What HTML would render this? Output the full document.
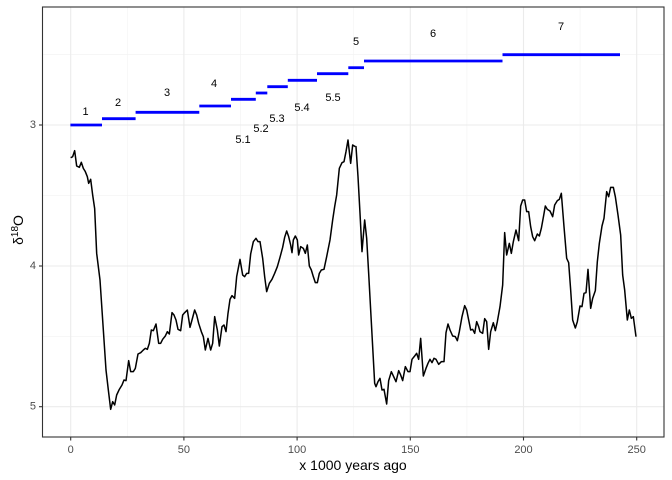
<!DOCTYPE html>
<html><head><meta charset="utf-8"><style>
html,body{margin:0;padding:0;background:#fff;}
svg{display:block;font-family:"Liberation Sans",sans-serif;}
</style></head><body>
<svg width="672" height="480" viewBox="0 0 672 480" xmlns="http://www.w3.org/2000/svg">
<rect x="0" y="0" width="672" height="480" fill="#fff"/>
<!-- minor grid -->
<g stroke="#f2f2f2" stroke-width="0.6">
<line x1="127.3" y1="7" x2="127.3" y2="437"/><line x1="240.5" y1="7" x2="240.5" y2="437"/><line x1="353.7" y1="7" x2="353.7" y2="437"/><line x1="466.9" y1="7" x2="466.9" y2="437"/><line x1="580.1" y1="7" x2="580.1" y2="437"/>
<line x1="42.5" y1="54.4" x2="664" y2="54.4"/><line x1="42.5" y1="195.7" x2="664" y2="195.7"/><line x1="42.5" y1="336.7" x2="664" y2="336.7"/>
</g>
<g stroke="#ebebeb" stroke-width="1.1">
<line x1="70.7" y1="7" x2="70.7" y2="437"/><line x1="183.9" y1="7" x2="183.9" y2="437"/><line x1="297.1" y1="7" x2="297.1" y2="437"/><line x1="410.3" y1="7" x2="410.3" y2="437"/><line x1="523.5" y1="7" x2="523.5" y2="437"/><line x1="636.7" y1="7" x2="636.7" y2="437"/>
<line x1="42.5" y1="125" x2="664" y2="125"/><line x1="42.5" y1="266" x2="664" y2="266"/><line x1="42.5" y1="406.7" x2="664" y2="406.7"/>
</g>
<!-- blue segments -->
<g stroke="#0000ff" stroke-width="2.8">
<line x1="70.4" y1="125" x2="102" y2="125"/>
<line x1="102" y1="118.7" x2="135.6" y2="118.7"/>
<line x1="135.6" y1="112.3" x2="199.3" y2="112.3"/>
<line x1="199.3" y1="106" x2="231" y2="106"/>
<line x1="231" y1="99.3" x2="255.8" y2="99.3"/>
<line x1="255.8" y1="93" x2="267.3" y2="93"/>
<line x1="267.3" y1="86.7" x2="287.8" y2="86.7"/>
<line x1="287.8" y1="80.3" x2="317" y2="80.3"/>
<line x1="317" y1="73.7" x2="348.3" y2="73.7"/>
<line x1="348.3" y1="67.7" x2="364" y2="67.7"/>
<line x1="364" y1="61" x2="502.5" y2="61"/>
<line x1="502.5" y1="54.7" x2="620" y2="54.7"/>
</g>
<g font-size="11" fill="#000" text-anchor="middle" dominant-baseline="central">
<text x="85.5" y="112">1</text><text x="118" y="103">2</text><text x="167" y="93">3</text><text x="214" y="84">4</text>
<text x="243" y="140">5.1</text><text x="261" y="129">5.2</text><text x="277" y="119">5.3</text><text x="302" y="108">5.4</text><text x="333" y="98">5.5</text>
<text x="356" y="42">5</text><text x="433" y="34">6</text><text x="561" y="27">7</text>
</g>
<!-- black line -->
<polyline transform="translate(40,130) scale(0.33333)" fill="none" stroke="#000" stroke-width="1.5" vector-effect="non-scaling-stroke" stroke-linejoin="round" points="92,83 98,80 104,62 110,108 118,112 124,97 130,115 136,125 142,140 146,160 152,148 158,195 164,236 170,370 180,450 190,600 198,720 205,780 212,838 218,815 224,825 230,795 238,778 246,765 252,750 258,752 266,692 272,725 280,725 286,715 294,672 302,668 310,660 316,655 322,658 328,640 334,600 340,602 348,582 356,640 362,640 368,628 376,618 382,605 388,612 396,548 402,555 408,570 414,598 422,602 428,555 434,548 442,540 450,592 456,570 464,540 470,555 476,580 484,605 490,620 496,660 504,625 512,660 518,640 524,560 532,600 538,648 546,590 552,585 558,605 564,550 570,508 576,497 584,505 590,440 600,388 608,435 614,440 620,430 626,430 632,372 640,335 648,325 654,335 660,335 668,385 674,440 680,485 688,460 696,448 704,430 712,410 720,382 728,352 734,322 740,303 746,320 752,345 756,368 760,330 766,318 772,330 776,375 782,350 790,355 796,370 802,345 808,408 814,420 820,440 826,458 832,458 838,430 844,420 852,418 860,380 870,330 878,270 884,230 890,195 898,115 906,98 912,95 918,65 924,30 932,100 938,45 946,50"/>
<polyline transform="translate(340,130) scale(0.33333)" fill="none" stroke="#000" stroke-width="1.5" vector-effect="non-scaling-stroke" stroke-linejoin="round" points="46,50 48,50 54,140 60,250 66,365 74,270 80,325 86,430 92,540 98,650 104,760 108,770 114,755 120,745 126,780 132,778 140,822 146,752 154,725 160,738 168,755 176,722 182,735 188,752 196,710 204,725 210,725 216,688 224,678 230,670 236,688 242,625 250,738 258,715 264,700 270,688 276,698 282,685 288,688 296,703 304,695 312,695 318,608 324,582 330,600 338,618 346,620 352,632 358,605 366,560 374,527 380,540 386,570 392,600 398,598 404,610 410,575 416,590 420,605 428,610 434,566 440,575 446,658 452,605 460,578 466,602 472,575 480,530 488,465 494,308 500,375 508,340 514,370 520,335 528,300 536,332 542,228 548,210 554,210 560,245 566,245 572,290 578,320 584,332 592,312 598,318 604,295 610,262 616,228 622,238 630,243 638,260 644,225 652,212 658,208 664,190 672,290 680,385 686,398 692,480 698,570 706,594 712,575 720,528 726,530 732,490 738,488 744,418 752,535 758,505 766,482 772,395 778,340 786,288 792,265 800,185 806,200 812,172 820,172 826,200 834,255 842,315 848,435 854,480 862,570 868,540 874,565 880,560 888,620"/>
<!-- border -->
<rect x="42.5" y="7" width="621.5" height="430" fill="none" stroke="#333" stroke-width="1.1"/>
<!-- ticks -->
<g stroke="#333" stroke-width="1.1">
<line x1="70.7" y1="437" x2="70.7" y2="440.5"/><line x1="183.9" y1="437" x2="183.9" y2="440.5"/><line x1="297.1" y1="437" x2="297.1" y2="440.5"/><line x1="410.3" y1="437" x2="410.3" y2="440.5"/><line x1="523.5" y1="437" x2="523.5" y2="440.5"/><line x1="636.7" y1="437" x2="636.7" y2="440.5"/>
<line x1="39" y1="125" x2="42.5" y2="125"/><line x1="39" y1="266" x2="42.5" y2="266"/><line x1="39" y1="406.7" x2="42.5" y2="406.7"/>
</g>
<g font-size="11" fill="#4d4d4d">
<g text-anchor="middle"><text x="70.7" y="453">0</text><text x="183.9" y="453">50</text><text x="297.1" y="453">100</text><text x="410.3" y="453">150</text><text x="523.5" y="453">200</text><text x="636.7" y="453">250</text></g>
<g text-anchor="end" dominant-baseline="central"><text x="36" y="125">3</text><text x="36" y="266">4</text><text x="36" y="406.7">5</text></g>
</g>
<text x="353" y="470" font-size="14" text-anchor="middle" fill="#000">x 1000 years ago</text>
<g transform="translate(23,230) rotate(-90)"><text x="0" y="0" font-size="14" text-anchor="middle" fill="#000">δ<tspan font-size="10" dy="-5">18</tspan><tspan dy="5">O</tspan></text></g>
</svg>
</body></html>
